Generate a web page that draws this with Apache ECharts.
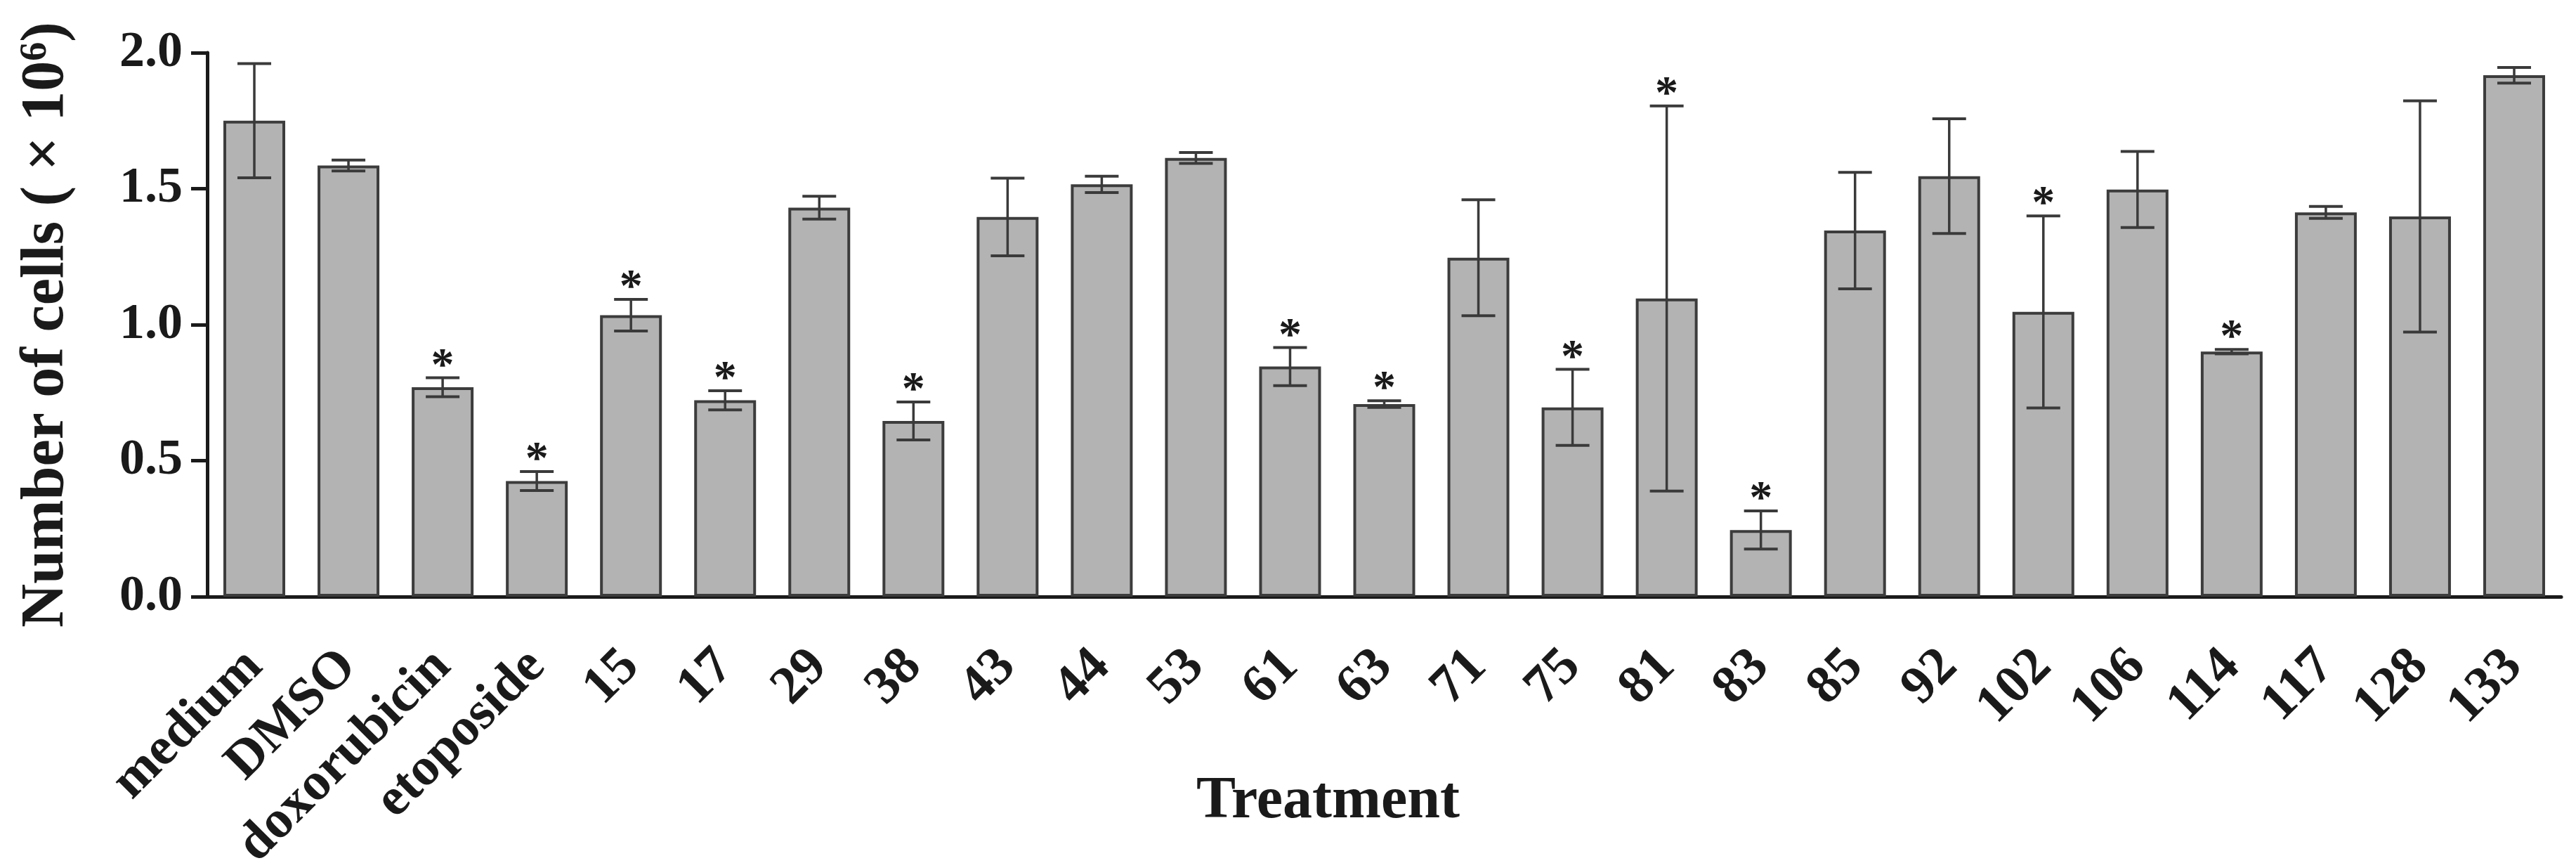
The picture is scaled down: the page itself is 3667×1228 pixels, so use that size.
<!DOCTYPE html>
<html>
<head>
<meta charset="utf-8">
<script src="https://cdn.jsdelivr.net/npm/echarts@6/dist/echarts.min.js"></script>
<style>
  html, body { margin: 0; padding: 0; background: #fff; }
  #chart { width: 3667px; height: 1228px; }
</style>
</head>
<body>
<div id="chart"></div>
<script>
var categories = ['medium', 'DMSO', 'doxorubicin', 'etoposide', '15', '17', '29', '38', '43', '44', '53', '61', '63', '71', '75', '81', '83', '85', '92', '102', '106', '114', '117', '128', '133'];
var means = [1.75, 1.585, 0.77, 0.425, 1.035, 0.722, 1.43, 0.646, 1.396, 1.516, 1.613, 0.846, 0.708, 1.246, 0.696, 1.096, 0.245, 1.346, 1.546, 1.047, 1.497, 0.901, 1.413, 1.398, 1.917];
var errs = [0.21, 0.02, 0.035, 0.035, 0.058, 0.035, 0.042, 0.07, 0.143, 0.03, 0.02, 0.07, 0.012, 0.213, 0.14, 0.708, 0.07, 0.214, 0.211, 0.353, 0.14, 0.008, 0.022, 0.425, 0.029];
var sig = [0, 0, 1, 1, 1, 1, 0, 1, 0, 0, 0, 1, 1, 0, 1, 1, 1, 0, 0, 1, 0, 1, 0, 0, 0];
var yTicks = [0, 0.5, 1.0, 1.5, 2.0];

var font = 'Liberation Serif';
var ink = '#1a1a1a';

var errData = [];
for (var i = 0; i < categories.length; i++) {
  errData.push([i, means[i] - errs[i], means[i] + errs[i], sig[i]]);
}

var myChart = echarts.init(document.getElementById('chart'));
var option = {
  backgroundColor: '#fff',
  animation: false,
  grid: { left: 295, right: 21, top: 75, bottom: 379, containLabel: false, outerBoundsMode: 'none' },
  xAxis: {
    type: 'category',
    data: categories,
    name: 'Treatment',
    nameLocation: 'middle',
    nameGap: 250,
    nameMoveOverlap: false,
    nameTextStyle: { fontFamily: font, fontWeight: 'bold', fontSize: 84, color: ink, padding: [0, 160, 0, 0] },
    axisLine: { lineStyle: { color: ink, width: 5 } },
    axisTick: { alignWithLabel: true, length: 24, lineStyle: { color: ink, width: 4 } },
    axisLabel: { interval: 0, rotate: 45, margin: 88, fontFamily: font, fontWeight: 'bold', fontSize: 76, color: ink }
  },
  yAxis: {
    type: 'value',
    min: yTicks[0],
    max: yTicks[yTicks.length - 1],
    interval: 0.5,
    name: '{t|Number of cells ( × 10}{s|6}{t|)}',
    nameLocation: 'middle',
    nameGap: 185,
    nameMoveOverlap: false,
    nameTextStyle: {
      color: ink,
      rich: {
        t: { fontFamily: font, fontWeight: 'bold', fontSize: 86, color: ink },
        s: { fontFamily: font, fontWeight: 'bold', fontSize: 54, color: ink, verticalAlign: 'top', padding: [0, 0, 30, 0] }
      }
    },
    axisLine: { show: true, lineStyle: { color: ink, width: 5 } },
    axisTick: { show: true, length: 23, lineStyle: { color: ink, width: 5 } },
    splitLine: { show: false },
    axisLabel: {
      margin: 35,
      fontFamily: font, fontWeight: 'bold', fontSize: 72, color: ink,
      formatter: function (v) { return v.toFixed(1); }
    }
  },
  series: [
    {
      type: 'bar',
      data: means,
      barWidth: 88,
      itemStyle: { color: '#b3b3b3', borderColor: '#3c3c3c', borderWidth: 4 },
      z: 2
    },
    {
      type: 'custom',
      data: errData,
      z: 3,
      renderItem: function (params, api) {
        var x = api.value(0);
        var lo = api.coord([x, api.value(1)]);
        var hi = api.coord([x, api.value(2)]);
        var cap = 24;
        var style = { stroke: '#3a3a3a', lineWidth: 4 };
        var children = [
          { type: 'line', shape: { x1: hi[0], y1: hi[1], x2: lo[0], y2: lo[1] }, style: { stroke: '#3a3a3a', lineWidth: 3.5 } },
          { type: 'line', shape: { x1: hi[0] - cap, y1: hi[1], x2: hi[0] + cap, y2: hi[1] }, style: style },
          { type: 'line', shape: { x1: lo[0] - cap, y1: lo[1], x2: lo[0] + cap, y2: lo[1] }, style: style }
        ];
        if (api.value(3)) {
          children.push({
            type: 'text',
            x: hi[0],
            y: hi[1] + 18,
            style: { text: '*', fontFamily: font, fontWeight: 'bold', fontSize: 66, fill: ink, align: 'center', verticalAlign: 'bottom' }
          });
        }
        return { type: 'group', children: children };
      }
    }
  ]
};
myChart.setOption(option);
</script>
</body>
</html>
